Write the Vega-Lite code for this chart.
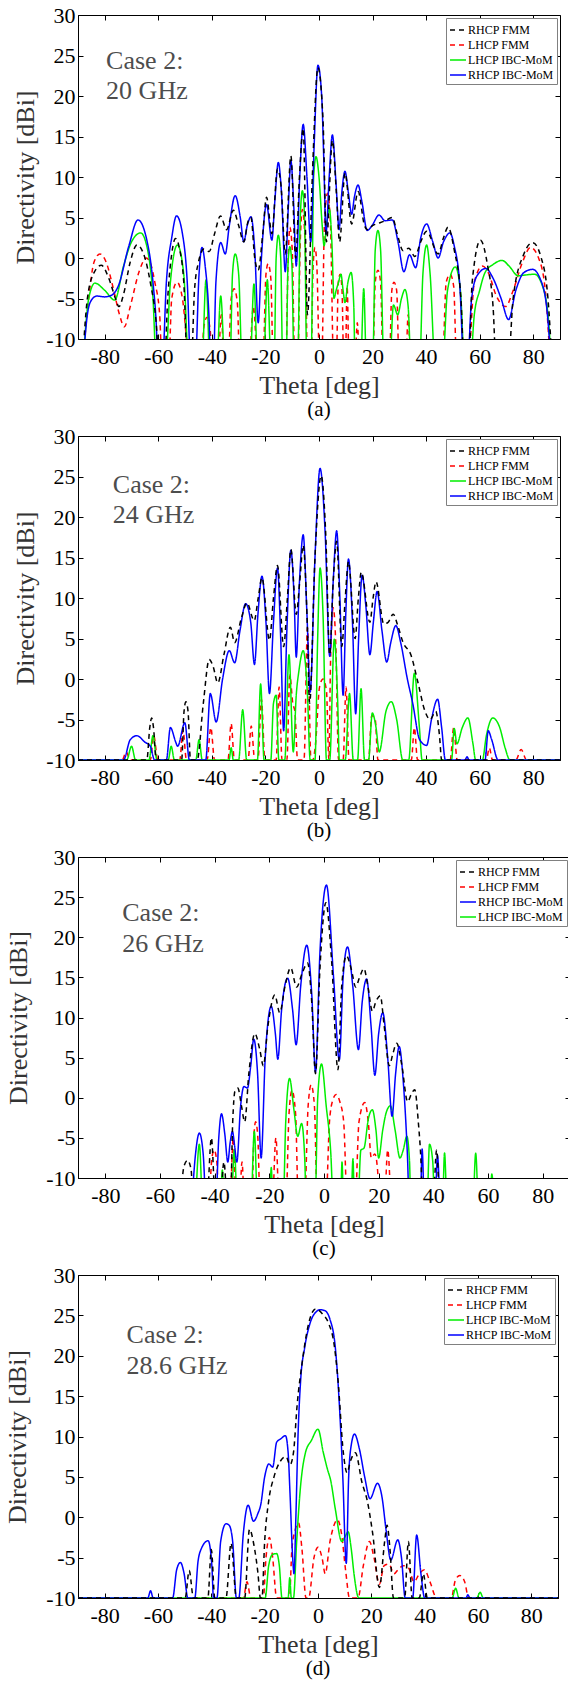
{
"$schema": "https://vega.github.io/schema/vega-lite/v6.json",
"background": "white",
"padding": {"top": 3, "left": 4, "right": 0, "bottom": 0},
"config": {
  "font": "Liberation Serif",
  "view": {"stroke": "black", "strokeWidth": 1},
  "axis": {"domainColor": "black", "tickColor": "black", "labelColor": "black", "labelFont": "Liberation Serif", "labelFontSize": 22, "titleFont": "Liberation Serif", "titleFontSize": 26, "titleFontWeight": "normal", "titleColor": "#333333", "grid": false, "tickSize": -5, "labelFlush": false, "labelOverlap": false, "labelExpr": "'' + datum.value"},
  "axisX": {"labelPadding": 12, "titlePadding": 5},
  "axisY": {"labelPadding": 8, "titlePadding": 7},
  "legend": {"orient": "top-right", "offset": 3, "labelFont": "Liberation Serif", "labelFontSize": 12, "labelColor": "black", "symbolType": "stroke", "symbolStrokeWidth": 1.5, "symbolSize": 256, "strokeColor": "#808080", "fillColor": "white", "padding": 3, "rowPadding": 0, "labelOffset": 1, "cornerRadius": 0},
  "title": {"font": "Liberation Serif", "fontSize": 21, "fontWeight": "normal", "color": "black", "orient": "bottom", "offset": 1, "anchor": "middle"}
},
"datasets": {
"a": [
{"s":"LHCP FMM","x":-88.5,"y":-14},{"s":"LHCP FMM","x":-86,"y":-5},{"s":"LHCP FMM","x":-84,"y":-0.5},{"s":"LHCP FMM","x":-81.8,"y":0.5},{"s":"LHCP FMM","x":-79.5,"y":-0.5},{"s":"LHCP FMM","x":-77,"y":-3.5},{"s":"LHCP FMM","x":-74.5,"y":-7},{"s":"LHCP FMM","x":-72.7,"y":-8.5},{"s":"LHCP FMM","x":-70.5,"y":-6},{"s":"LHCP FMM","x":-67,"y":-1.5},{"s":"LHCP FMM","x":-64.5,"y":0},{"s":"LHCP FMM","x":-62.8,"y":-0.8},{"s":"LHCP FMM","x":-61.3,"y":-3},{"s":"LHCP FMM","x":-59.5,"y":-7},{"s":"LHCP FMM","x":-58.5,"y":-14},{"s":"LHCP FMM","x":-56.2,"y":-14},{"s":"LHCP FMM","x":-55,"y":-5},{"s":"LHCP FMM","x":-53,"y":-3},{"s":"LHCP FMM","x":-51,"y":-5},{"s":"LHCP FMM","x":-49.5,"y":-10},{"s":"LHCP FMM","x":-48.5,"y":-14},
{"s":"LHCP FMM","x":-44,"y":-14},{"s":"LHCP FMM","x":-43,"y":-8.5},{"s":"LHCP FMM","x":-41.8,"y":-7.3},{"s":"LHCP FMM","x":-40.6,"y":-9},{"s":"LHCP FMM","x":-40,"y":-14},
{"s":"LHCP FMM","x":-37.8,"y":-14},{"s":"LHCP FMM","x":-36.5,"y":-7},{"s":"LHCP FMM","x":-35.3,"y":-14},
{"s":"LHCP FMM","x":-34,"y":-14},{"s":"LHCP FMM","x":-32.8,"y":-5},{"s":"LHCP FMM","x":-31.7,"y":-3.8},{"s":"LHCP FMM","x":-30.5,"y":-5.5},{"s":"LHCP FMM","x":-29.5,"y":-14},
{"s":"LHCP FMM","x":-26.3,"y":-14},{"s":"LHCP FMM","x":-24.5,"y":-6},{"s":"LHCP FMM","x":-22.7,"y":-14},
{"s":"LHCP FMM","x":-21,"y":-14},{"s":"LHCP FMM","x":-19.8,"y":-2},{"s":"LHCP FMM","x":-19,"y":-0.7},{"s":"LHCP FMM","x":-18,"y":-2.5},{"s":"LHCP FMM","x":-17,"y":-14},
{"s":"LHCP FMM","x":-12.5,"y":-14},{"s":"LHCP FMM","x":-11.5,"y":0},{"s":"LHCP FMM","x":-10.9,"y":3.8},{"s":"LHCP FMM","x":-10,"y":1},{"s":"LHCP FMM","x":-9,"y":-14},
{"s":"LHCP FMM","x":-8,"y":-14},{"s":"LHCP FMM","x":-7,"y":2},{"s":"LHCP FMM","x":-6.2,"y":6},{"s":"LHCP FMM","x":-5.2,"y":2},{"s":"LHCP FMM","x":-4.2,"y":-14},
{"s":"LHCP FMM","x":-3,"y":-14},{"s":"LHCP FMM","x":-2.2,"y":-1},{"s":"LHCP FMM","x":-1.5,"y":1.3},{"s":"LHCP FMM","x":-0.8,"y":-1},{"s":"LHCP FMM","x":0.3,"y":-14},
{"s":"LHCP FMM","x":1,"y":-14},{"s":"LHCP FMM","x":2,"y":4},{"s":"LHCP FMM","x":3.2,"y":8},{"s":"LHCP FMM","x":4.3,"y":4},{"s":"LHCP FMM","x":5.5,"y":-14},
{"s":"LHCP FMM","x":6.4,"y":-14},{"s":"LHCP FMM","x":7.2,"y":-3},{"s":"LHCP FMM","x":7.9,"y":-2},{"s":"LHCP FMM","x":8.6,"y":-4},{"s":"LHCP FMM","x":9.3,"y":-14},
{"s":"LHCP FMM","x":9.8,"y":-14},{"s":"LHCP FMM","x":10.5,"y":-3.5},{"s":"LHCP FMM","x":11.3,"y":-14},
{"s":"LHCP FMM","x":13.3,"y":-14},{"s":"LHCP FMM","x":14.3,"y":-8},{"s":"LHCP FMM","x":15.3,"y":-14},
{"s":"LHCP FMM","x":20,"y":-14},{"s":"LHCP FMM","x":21,"y":-3},{"s":"LHCP FMM","x":22,"y":-1.5},{"s":"LHCP FMM","x":23,"y":-3},{"s":"LHCP FMM","x":24,"y":-14},
{"s":"LHCP FMM","x":26.2,"y":-14},{"s":"LHCP FMM","x":27.2,"y":-4},{"s":"LHCP FMM","x":28,"y":-3},{"s":"LHCP FMM","x":29,"y":-4},{"s":"LHCP FMM","x":30,"y":-14},
{"s":"LHCP FMM","x":32.3,"y":-14},{"s":"LHCP FMM","x":33.3,"y":-7},{"s":"LHCP FMM","x":34.3,"y":-14},
{"s":"LHCP FMM","x":46,"y":-14},{"s":"LHCP FMM","x":47.5,"y":-3},{"s":"LHCP FMM","x":49,"y":-2},{"s":"LHCP FMM","x":50.3,"y":-3.5},{"s":"LHCP FMM","x":51.5,"y":-14},
{"s":"LHCP FMM","x":55.5,"y":-14},{"s":"LHCP FMM","x":58,"y":-3},{"s":"LHCP FMM","x":61,"y":-1},{"s":"LHCP FMM","x":63.5,"y":-2},{"s":"LHCP FMM","x":66,"y":-4.5},{"s":"LHCP FMM","x":69.7,"y":-6},{"s":"LHCP FMM","x":72.5,"y":-4},{"s":"LHCP FMM","x":76,"y":-0.5},{"s":"LHCP FMM","x":79,"y":1.3},{"s":"LHCP FMM","x":82,"y":0},{"s":"LHCP FMM","x":84.5,"y":-4},{"s":"LHCP FMM","x":86.5,"y":-14},
{"s":"LHCP IBC-MoM","x":-88.3,"y":-14},{"s":"LHCP IBC-MoM","x":-86,"y":-5},{"s":"LHCP IBC-MoM","x":-83.7,"y":-3.1},{"s":"LHCP IBC-MoM","x":-80,"y":-4},{"s":"LHCP IBC-MoM","x":-76.3,"y":-5.2},{"s":"LHCP IBC-MoM","x":-73,"y":-1},{"s":"LHCP IBC-MoM","x":-70,"y":2},{"s":"LHCP IBC-MoM","x":-66.6,"y":3.1},{"s":"LHCP IBC-MoM","x":-64,"y":1},{"s":"LHCP IBC-MoM","x":-62,"y":-5},{"s":"LHCP IBC-MoM","x":-60.6,"y":-14},{"s":"LHCP IBC-MoM","x":-57.5,"y":-14},{"s":"LHCP IBC-MoM","x":-55.5,"y":-3},{"s":"LHCP IBC-MoM","x":-52.9,"y":1.6},{"s":"LHCP IBC-MoM","x":-50.5,"y":-2},{"s":"LHCP IBC-MoM","x":-48.5,"y":-14},
{"s":"LHCP IBC-MoM","x":-43.8,"y":-14},{"s":"LHCP IBC-MoM","x":-42.2,"y":-2.7},{"s":"LHCP IBC-MoM","x":-40.6,"y":-14},
{"s":"LHCP IBC-MoM","x":-38.3,"y":-14},{"s":"LHCP IBC-MoM","x":-36.7,"y":-4.7},{"s":"LHCP IBC-MoM","x":-35,"y":-14},
{"s":"LHCP IBC-MoM","x":-33.3,"y":-14},{"s":"LHCP IBC-MoM","x":-32.3,"y":-2},{"s":"LHCP IBC-MoM","x":-31.3,"y":0.5},{"s":"LHCP IBC-MoM","x":-30,"y":-2},{"s":"LHCP IBC-MoM","x":-28.6,"y":-14},
{"s":"LHCP IBC-MoM","x":-25.8,"y":-14},{"s":"LHCP IBC-MoM","x":-24.3,"y":-3.2},{"s":"LHCP IBC-MoM","x":-22.8,"y":-14},
{"s":"LHCP IBC-MoM","x":-20.8,"y":-14},{"s":"LHCP IBC-MoM","x":-19.3,"y":-2.7},{"s":"LHCP IBC-MoM","x":-17.8,"y":-14},
{"s":"LHCP IBC-MoM","x":-16.8,"y":-14},{"s":"LHCP IBC-MoM","x":-16,"y":0},{"s":"LHCP IBC-MoM","x":-15.2,"y":2.8},{"s":"LHCP IBC-MoM","x":-14.3,"y":0},{"s":"LHCP IBC-MoM","x":-13.5,"y":-14},
{"s":"LHCP IBC-MoM","x":-12.3,"y":-14},{"s":"LHCP IBC-MoM","x":-11.6,"y":-1},{"s":"LHCP IBC-MoM","x":-10.9,"y":1.4},{"s":"LHCP IBC-MoM","x":-10.1,"y":-1},{"s":"LHCP IBC-MoM","x":-9.3,"y":-14},
{"s":"LHCP IBC-MoM","x":-8,"y":-14},{"s":"LHCP IBC-MoM","x":-7,"y":5},{"s":"LHCP IBC-MoM","x":-6.2,"y":8.3},{"s":"LHCP IBC-MoM","x":-5.4,"y":5},{"s":"LHCP IBC-MoM","x":-4.5,"y":-14},
{"s":"LHCP IBC-MoM","x":-3,"y":-14},{"s":"LHCP IBC-MoM","x":-2,"y":10},{"s":"LHCP IBC-MoM","x":-1.1,"y":12.5},{"s":"LHCP IBC-MoM","x":0,"y":10},{"s":"LHCP IBC-MoM","x":1.2,"y":4},{"s":"LHCP IBC-MoM","x":1.9,"y":1.5},{"s":"LHCP IBC-MoM","x":2.8,"y":4},{"s":"LHCP IBC-MoM","x":3.9,"y":6},{"s":"LHCP IBC-MoM","x":4.8,"y":2},{"s":"LHCP IBC-MoM","x":5.6,"y":-5},{"s":"LHCP IBC-MoM","x":6.4,"y":-4},{"s":"LHCP IBC-MoM","x":7.3,"y":-3},{"s":"LHCP IBC-MoM","x":8.2,"y":-2},{"s":"LHCP IBC-MoM","x":9,"y":-4},{"s":"LHCP IBC-MoM","x":9.7,"y":-5.5},{"s":"LHCP IBC-MoM","x":10.8,"y":-3},{"s":"LHCP IBC-MoM","x":12,"y":-1.8},{"s":"LHCP IBC-MoM","x":13,"y":-6},{"s":"LHCP IBC-MoM","x":13.5,"y":-14},
{"s":"LHCP IBC-MoM","x":15.5,"y":-14},{"s":"LHCP IBC-MoM","x":16.7,"y":-3.8},{"s":"LHCP IBC-MoM","x":17.8,"y":-14},
{"s":"LHCP IBC-MoM","x":20,"y":-14},{"s":"LHCP IBC-MoM","x":21,"y":1},{"s":"LHCP IBC-MoM","x":22,"y":3.4},{"s":"LHCP IBC-MoM","x":23,"y":1},{"s":"LHCP IBC-MoM","x":24.3,"y":-14},
{"s":"LHCP IBC-MoM","x":26.3,"y":-14},{"s":"LHCP IBC-MoM","x":27.8,"y":-5.8},{"s":"LHCP IBC-MoM","x":29.4,"y":-7},{"s":"LHCP IBC-MoM","x":30.8,"y":-5},{"s":"LHCP IBC-MoM","x":32.1,"y":-3.9},{"s":"LHCP IBC-MoM","x":33.3,"y":-6},{"s":"LHCP IBC-MoM","x":34.5,"y":-14},
{"s":"LHCP IBC-MoM","x":37.5,"y":-14},{"s":"LHCP IBC-MoM","x":38.8,"y":-2},{"s":"LHCP IBC-MoM","x":40.2,"y":1.6},{"s":"LHCP IBC-MoM","x":41.5,"y":-2},{"s":"LHCP IBC-MoM","x":43.5,"y":-14},
{"s":"LHCP IBC-MoM","x":46,"y":-14},{"s":"LHCP IBC-MoM","x":48,"y":-4},{"s":"LHCP IBC-MoM","x":50.9,"y":-1.1},{"s":"LHCP IBC-MoM","x":52.8,"y":-4},{"s":"LHCP IBC-MoM","x":54.5,"y":-14},
{"s":"LHCP IBC-MoM","x":56.3,"y":-14},{"s":"LHCP IBC-MoM","x":58,"y":-7},{"s":"LHCP IBC-MoM","x":60,"y":-4},{"s":"LHCP IBC-MoM","x":62,"y":-1.8},{"s":"LHCP IBC-MoM","x":65,"y":-0.8},{"s":"LHCP IBC-MoM","x":68.4,"y":-0.3},{"s":"LHCP IBC-MoM","x":71,"y":-1},{"s":"LHCP IBC-MoM","x":74.4,"y":-2.2},{"s":"LHCP IBC-MoM","x":77,"y":-2.1},{"s":"LHCP IBC-MoM","x":80.5,"y":-2},{"s":"LHCP IBC-MoM","x":83.5,"y":-3.5},{"s":"LHCP IBC-MoM","x":85.8,"y":-8},{"s":"LHCP IBC-MoM","x":86.8,"y":-14},
{"s":"RHCP IBC-MoM","x":-88.3,"y":-14},{"s":"RHCP IBC-MoM","x":-86.5,"y":-7},{"s":"RHCP IBC-MoM","x":-85,"y":-5.2},{"s":"RHCP IBC-MoM","x":-83,"y":-4.7},{"s":"RHCP IBC-MoM","x":-80,"y":-4.8},{"s":"RHCP IBC-MoM","x":-77.5,"y":-4.6},{"s":"RHCP IBC-MoM","x":-75,"y":-3.5},{"s":"RHCP IBC-MoM","x":-71,"y":1.5},{"s":"RHCP IBC-MoM","x":-67.6,"y":4.7},{"s":"RHCP IBC-MoM","x":-64.5,"y":2.5},{"s":"RHCP IBC-MoM","x":-62,"y":-3},{"s":"RHCP IBC-MoM","x":-60.8,"y":-8},{"s":"RHCP IBC-MoM","x":-60,"y":-14},{"s":"RHCP IBC-MoM","x":-58.6,"y":-14},{"s":"RHCP IBC-MoM","x":-57,"y":-3},{"s":"RHCP IBC-MoM","x":-55,"y":2.5},{"s":"RHCP IBC-MoM","x":-53.2,"y":5.2},{"s":"RHCP IBC-MoM","x":-51,"y":3},{"s":"RHCP IBC-MoM","x":-49.2,"y":-3},{"s":"RHCP IBC-MoM","x":-47.8,"y":-14},
{"s":"RHCP IBC-MoM","x":-46.3,"y":-14},{"s":"RHCP IBC-MoM","x":-44.8,"y":-2},{"s":"RHCP IBC-MoM","x":-43.7,"y":1.3},{"s":"RHCP IBC-MoM","x":-42.5,"y":-1},{"s":"RHCP IBC-MoM","x":-41,"y":-8},{"s":"RHCP IBC-MoM","x":-40.4,"y":-14},
{"s":"RHCP IBC-MoM","x":-39.5,"y":-14},{"s":"RHCP IBC-MoM","x":-38.5,"y":-3},{"s":"RHCP IBC-MoM","x":-36.7,"y":1.9},{"s":"RHCP IBC-MoM","x":-35,"y":0.5},{"s":"RHCP IBC-MoM","x":-33.5,"y":4},{"s":"RHCP IBC-MoM","x":-31.3,"y":7.7},{"s":"RHCP IBC-MoM","x":-29.4,"y":5},{"s":"RHCP IBC-MoM","x":-28.1,"y":2},{"s":"RHCP IBC-MoM","x":-26.8,"y":4},{"s":"RHCP IBC-MoM","x":-25.4,"y":5.1},{"s":"RHCP IBC-MoM","x":-24,"y":1},{"s":"RHCP IBC-MoM","x":-22.7,"y":-8},{"s":"RHCP IBC-MoM","x":-21.5,"y":0},{"s":"RHCP IBC-MoM","x":-19.6,"y":6.6},{"s":"RHCP IBC-MoM","x":-17.6,"y":2.2},{"s":"RHCP IBC-MoM","x":-16.5,"y":7},{"s":"RHCP IBC-MoM","x":-15.2,"y":11.8},{"s":"RHCP IBC-MoM","x":-14,"y":8},{"s":"RHCP IBC-MoM","x":-12.6,"y":-1.7},{"s":"RHCP IBC-MoM","x":-11.5,"y":6},{"s":"RHCP IBC-MoM","x":-10.5,"y":12},{"s":"RHCP IBC-MoM","x":-9.5,"y":7},{"s":"RHCP IBC-MoM","x":-8.5,"y":-1},{"s":"RHCP IBC-MoM","x":-7.2,"y":10},{"s":"RHCP IBC-MoM","x":-5.9,"y":16.5},{"s":"RHCP IBC-MoM","x":-4.5,"y":10},{"s":"RHCP IBC-MoM","x":-3.1,"y":2},{"s":"RHCP IBC-MoM","x":-1.8,"y":14},{"s":"RHCP IBC-MoM","x":-0.4,"y":23.8},{"s":"RHCP IBC-MoM","x":1,"y":20},{"s":"RHCP IBC-MoM","x":1.8,"y":12},{"s":"RHCP IBC-MoM","x":2.6,"y":3},{"s":"RHCP IBC-MoM","x":3.8,"y":10},{"s":"RHCP IBC-MoM","x":5,"y":15.2},{"s":"RHCP IBC-MoM","x":6.4,"y":9},{"s":"RHCP IBC-MoM","x":7.5,"y":3.5},{"s":"RHCP IBC-MoM","x":8.5,"y":8},{"s":"RHCP IBC-MoM","x":9.7,"y":10.7},{"s":"RHCP IBC-MoM","x":11,"y":8},{"s":"RHCP IBC-MoM","x":12.2,"y":5.4},{"s":"RHCP IBC-MoM","x":13.2,"y":7.5},{"s":"RHCP IBC-MoM","x":14.6,"y":9},{"s":"RHCP IBC-MoM","x":16,"y":7},{"s":"RHCP IBC-MoM","x":18,"y":3.4},{"s":"RHCP IBC-MoM","x":19.8,"y":4},{"s":"RHCP IBC-MoM","x":22.4,"y":5.3},{"s":"RHCP IBC-MoM","x":24.7,"y":4.6},{"s":"RHCP IBC-MoM","x":27.4,"y":4.7},{"s":"RHCP IBC-MoM","x":29.5,"y":2},{"s":"RHCP IBC-MoM","x":31.7,"y":-1.7},{"s":"RHCP IBC-MoM","x":33.8,"y":0.4},{"s":"RHCP IBC-MoM","x":36.1,"y":-1.2},{"s":"RHCP IBC-MoM","x":38,"y":2.5},{"s":"RHCP IBC-MoM","x":40.2,"y":4.2},{"s":"RHCP IBC-MoM","x":42.5,"y":2},{"s":"RHCP IBC-MoM","x":44.5,"y":0},{"s":"RHCP IBC-MoM","x":46.5,"y":2},{"s":"RHCP IBC-MoM","x":48.9,"y":3.1},{"s":"RHCP IBC-MoM","x":50.5,"y":1.5},{"s":"RHCP IBC-MoM","x":52.5,"y":-3},{"s":"RHCP IBC-MoM","x":54.3,"y":-14},{"s":"RHCP IBC-MoM","x":55.3,"y":-14},{"s":"RHCP IBC-MoM","x":57,"y":-5},{"s":"RHCP IBC-MoM","x":59,"y":-2.2},{"s":"RHCP IBC-MoM","x":62.3,"y":-1.3},{"s":"RHCP IBC-MoM","x":65,"y":-2.5},{"s":"RHCP IBC-MoM","x":68,"y":-5},{"s":"RHCP IBC-MoM","x":70.8,"y":-7.6},{"s":"RHCP IBC-MoM","x":73.5,"y":-4},{"s":"RHCP IBC-MoM","x":76.5,"y":-1.8},{"s":"RHCP IBC-MoM","x":79.8,"y":-1.4},{"s":"RHCP IBC-MoM","x":82.5,"y":-2.5},{"s":"RHCP IBC-MoM","x":85,"y":-6},{"s":"RHCP IBC-MoM","x":86.8,"y":-14},
{"s":"RHCP FMM","x":-88.5,"y":-14},{"s":"RHCP FMM","x":-86.5,"y":-5},{"s":"RHCP FMM","x":-84,"y":-1.8},{"s":"RHCP FMM","x":-81.3,"y":-0.9},{"s":"RHCP FMM","x":-78.5,"y":-2.5},{"s":"RHCP FMM","x":-76,"y":-5},{"s":"RHCP FMM","x":-74.7,"y":-6},{"s":"RHCP FMM","x":-73,"y":-4.5},{"s":"RHCP FMM","x":-70.5,"y":-0.5},{"s":"RHCP FMM","x":-68,"y":1.6},{"s":"RHCP FMM","x":-65.5,"y":0.5},{"s":"RHCP FMM","x":-63,"y":-3},{"s":"RHCP FMM","x":-60.8,"y":-8},{"s":"RHCP FMM","x":-59.5,"y":-14},{"s":"RHCP FMM","x":-57.8,"y":-14},{"s":"RHCP FMM","x":-56.5,"y":-5},{"s":"RHCP FMM","x":-55,"y":0.5},{"s":"RHCP FMM","x":-53.6,"y":2.4},{"s":"RHCP FMM","x":-52,"y":1},{"s":"RHCP FMM","x":-50.5,"y":-3},{"s":"RHCP FMM","x":-49,"y":-14},{"s":"RHCP FMM","x":-47.8,"y":-14},{"s":"RHCP FMM","x":-46.5,"y":-4},{"s":"RHCP FMM","x":-45,"y":-0.5},{"s":"RHCP FMM","x":-43,"y":1.1},{"s":"RHCP FMM","x":-41,"y":0.8},{"s":"RHCP FMM","x":-39,"y":3},{"s":"RHCP FMM","x":-36.8,"y":5.2},{"s":"RHCP FMM","x":-34.5,"y":3.5},{"s":"RHCP FMM","x":-32,"y":5.9},{"s":"RHCP FMM","x":-30,"y":4},{"s":"RHCP FMM","x":-28.1,"y":2},{"s":"RHCP FMM","x":-26.5,"y":4.5},{"s":"RHCP FMM","x":-25.4,"y":5},{"s":"RHCP FMM","x":-24,"y":0},{"s":"RHCP FMM","x":-22.7,"y":-1.5},{"s":"RHCP FMM","x":-21,"y":3},{"s":"RHCP FMM","x":-19.6,"y":7.5},{"s":"RHCP FMM","x":-17.6,"y":3},{"s":"RHCP FMM","x":-15.5,"y":11},{"s":"RHCP FMM","x":-14.2,"y":9},{"s":"RHCP FMM","x":-12.6,"y":0.5},{"s":"RHCP FMM","x":-10.5,"y":12.6},{"s":"RHCP FMM","x":-8.7,"y":0},{"s":"RHCP FMM","x":-7.3,"y":10},{"s":"RHCP FMM","x":-5.9,"y":16},{"s":"RHCP FMM","x":-4.3,"y":-7},{"s":"RHCP FMM","x":-2.5,"y":10},{"s":"RHCP FMM","x":-0.4,"y":23.5},{"s":"RHCP FMM","x":1.5,"y":17},{"s":"RHCP FMM","x":2.8,"y":2},{"s":"RHCP FMM","x":5,"y":14.5},{"s":"RHCP FMM","x":6.5,"y":8},{"s":"RHCP FMM","x":7.7,"y":2},{"s":"RHCP FMM","x":9.7,"y":10.5},{"s":"RHCP FMM","x":12.2,"y":4.2},{"s":"RHCP FMM","x":14.6,"y":8.2},{"s":"RHCP FMM","x":17,"y":4},{"s":"RHCP FMM","x":18.2,"y":3.5},{"s":"RHCP FMM","x":20,"y":4},{"s":"RHCP FMM","x":22.4,"y":4.3},{"s":"RHCP FMM","x":24.7,"y":4.6},{"s":"RHCP FMM","x":27.4,"y":5},{"s":"RHCP FMM","x":29.2,"y":3},{"s":"RHCP FMM","x":31.4,"y":0.9},{"s":"RHCP FMM","x":33.5,"y":1.2},{"s":"RHCP FMM","x":35.8,"y":0.2},{"s":"RHCP FMM","x":38,"y":2},{"s":"RHCP FMM","x":40.2,"y":3.3},{"s":"RHCP FMM","x":44.5,"y":0.5},{"s":"RHCP FMM","x":46.5,"y":2.5},{"s":"RHCP FMM","x":48.2,"y":3.8},{"s":"RHCP FMM","x":50.5,"y":1},{"s":"RHCP FMM","x":53,"y":-5},{"s":"RHCP FMM","x":54.3,"y":-14},{"s":"RHCP FMM","x":55.8,"y":-14},{"s":"RHCP FMM","x":57.2,"y":-3},{"s":"RHCP FMM","x":60.3,"y":2.2},{"s":"RHCP FMM","x":63,"y":-1},{"s":"RHCP FMM","x":65,"y":-6},{"s":"RHCP FMM","x":66.3,"y":-14},{"s":"RHCP FMM","x":70.5,"y":-14},{"s":"RHCP FMM","x":72.5,"y":-5},{"s":"RHCP FMM","x":76.5,"y":0.5},{"s":"RHCP FMM","x":79.8,"y":1.9},{"s":"RHCP FMM","x":83,"y":0},{"s":"RHCP FMM","x":85.5,"y":-5},{"s":"RHCP FMM","x":87.2,"y":-14}
],
"b": [
{"s":"LHCP FMM","x":-90,"y":-10},{"s":"LHCP FMM","x":-73.5,"y":-10},{"s":"LHCP FMM","x":-72,"y":-9},{"s":"LHCP FMM","x":-70.5,"y":-10},{"s":"LHCP FMM","x":-63,"y":-10},{"s":"LHCP FMM","x":-61.7,"y":-7},{"s":"LHCP FMM","x":-60.2,"y":-10},{"s":"LHCP FMM","x":-52,"y":-10},{"s":"LHCP FMM","x":-50.8,"y":-6.3},{"s":"LHCP FMM","x":-49.5,"y":-10},{"s":"LHCP FMM","x":-41.8,"y":-10},{"s":"LHCP FMM","x":-40.4,"y":-6},{"s":"LHCP FMM","x":-39,"y":-10},{"s":"LHCP FMM","x":-34,"y":-10},{"s":"LHCP FMM","x":-32.8,"y":-5.5},{"s":"LHCP FMM","x":-31.6,"y":-10},{"s":"LHCP FMM","x":-26.5,"y":-10},{"s":"LHCP FMM","x":-25.3,"y":-5.8},{"s":"LHCP FMM","x":-24,"y":-10},{"s":"LHCP FMM","x":-22.8,"y":-10},{"s":"LHCP FMM","x":-21.5,"y":-2.5},{"s":"LHCP FMM","x":-20.2,"y":-10},{"s":"LHCP FMM","x":-16,"y":-10},{"s":"LHCP FMM","x":-14.9,"y":-1},{"s":"LHCP FMM","x":-13.8,"y":-10},{"s":"LHCP FMM","x":-12,"y":-10},{"s":"LHCP FMM","x":-10.9,"y":0.5},{"s":"LHCP FMM","x":-9.8,"y":-3},{"s":"LHCP FMM","x":-9,"y":-4},{"s":"LHCP FMM","x":-8,"y":-10},{"s":"LHCP FMM","x":-5.6,"y":-10},{"s":"LHCP FMM","x":-4.3,"y":6.3},{"s":"LHCP FMM","x":-3,"y":-10},{"s":"LHCP FMM","x":-2.3,"y":-10},{"s":"LHCP FMM","x":-1.3,"y":-8},{"s":"LHCP FMM","x":0.2,"y":-1},{"s":"LHCP FMM","x":1.5,"y":0},{"s":"LHCP FMM","x":2.8,"y":-1.5},{"s":"LHCP FMM","x":3.7,"y":-10},{"s":"LHCP FMM","x":4.3,"y":2},{"s":"LHCP FMM","x":5.3,"y":8.8},{"s":"LHCP FMM","x":6.3,"y":4},{"s":"LHCP FMM","x":7.3,"y":-10},{"s":"LHCP FMM","x":9,"y":-10},{"s":"LHCP FMM","x":10.1,"y":-1},{"s":"LHCP FMM","x":11.2,"y":-10},{"s":"LHCP FMM","x":18.5,"y":-10},{"s":"LHCP FMM","x":19.7,"y":-4.5},{"s":"LHCP FMM","x":21,"y":-5},{"s":"LHCP FMM","x":22,"y":-10},{"s":"LHCP FMM","x":34.5,"y":-10},{"s":"LHCP FMM","x":35.6,"y":-6},{"s":"LHCP FMM","x":36.8,"y":-10},{"s":"LHCP FMM","x":49,"y":-10},{"s":"LHCP FMM","x":50.3,"y":-6},{"s":"LHCP FMM","x":51.6,"y":-10},{"s":"LHCP FMM","x":62.5,"y":-10},{"s":"LHCP FMM","x":63.6,"y":-8.5},{"s":"LHCP FMM","x":64.8,"y":-10},{"s":"LHCP FMM","x":73.5,"y":-10},{"s":"LHCP FMM","x":75.5,"y":-8.7},{"s":"LHCP FMM","x":77.5,"y":-10},{"s":"LHCP FMM","x":90,"y":-10},
{"s":"LHCP IBC-MoM","x":-90,"y":-10},{"s":"LHCP IBC-MoM","x":-71.8,"y":-10},{"s":"LHCP IBC-MoM","x":-70,"y":-8.3},{"s":"LHCP IBC-MoM","x":-68.5,"y":-10},{"s":"LHCP IBC-MoM","x":-63.5,"y":-10},{"s":"LHCP IBC-MoM","x":-62,"y":-7},{"s":"LHCP IBC-MoM","x":-60.5,"y":-10},{"s":"LHCP IBC-MoM","x":-56.3,"y":-10},{"s":"LHCP IBC-MoM","x":-55.2,"y":-8.3},{"s":"LHCP IBC-MoM","x":-54,"y":-10},{"s":"LHCP IBC-MoM","x":-46,"y":-10},{"s":"LHCP IBC-MoM","x":-44.8,"y":-7.5},{"s":"LHCP IBC-MoM","x":-43.6,"y":-10},{"s":"LHCP IBC-MoM","x":-33.6,"y":-10},{"s":"LHCP IBC-MoM","x":-32.8,"y":-8.5},{"s":"LHCP IBC-MoM","x":-32,"y":-10},{"s":"LHCP IBC-MoM","x":-30,"y":-10},{"s":"LHCP IBC-MoM","x":-28.5,"y":-3.8},{"s":"LHCP IBC-MoM","x":-27,"y":-10},{"s":"LHCP IBC-MoM","x":-23,"y":-10},{"s":"LHCP IBC-MoM","x":-21.8,"y":-0.6},{"s":"LHCP IBC-MoM","x":-20.5,"y":-10},{"s":"LHCP IBC-MoM","x":-18,"y":-10},{"s":"LHCP IBC-MoM","x":-17,"y":-3},{"s":"LHCP IBC-MoM","x":-16,"y":-2},{"s":"LHCP IBC-MoM","x":-15,"y":-10},{"s":"LHCP IBC-MoM","x":-12.8,"y":-10},{"s":"LHCP IBC-MoM","x":-11.2,"y":3},{"s":"LHCP IBC-MoM","x":-9.6,"y":-9},{"s":"LHCP IBC-MoM","x":-8.5,"y":-2},{"s":"LHCP IBC-MoM","x":-7.5,"y":1},{"s":"LHCP IBC-MoM","x":-5.9,"y":3.5},{"s":"LHCP IBC-MoM","x":-4.3,"y":-2},{"s":"LHCP IBC-MoM","x":-3.3,"y":-10},{"s":"LHCP IBC-MoM","x":-1.5,"y":-10},{"s":"LHCP IBC-MoM","x":-0.5,"y":5},{"s":"LHCP IBC-MoM","x":0.4,"y":13.7},{"s":"LHCP IBC-MoM","x":1.5,"y":8},{"s":"LHCP IBC-MoM","x":2.8,"y":-10},{"s":"LHCP IBC-MoM","x":4,"y":-10},{"s":"LHCP IBC-MoM","x":5.7,"y":4.9},{"s":"LHCP IBC-MoM","x":7,"y":-3},{"s":"LHCP IBC-MoM","x":7.6,"y":-10},{"s":"LHCP IBC-MoM","x":9.8,"y":-10},{"s":"LHCP IBC-MoM","x":11.4,"y":-1.8},{"s":"LHCP IBC-MoM","x":12.8,"y":-10},{"s":"LHCP IBC-MoM","x":14.4,"y":-10},{"s":"LHCP IBC-MoM","x":15.7,"y":-1.2},{"s":"LHCP IBC-MoM","x":17,"y":-10},{"s":"LHCP IBC-MoM","x":18.5,"y":-10},{"s":"LHCP IBC-MoM","x":19.9,"y":-4.2},{"s":"LHCP IBC-MoM","x":21.3,"y":-6},{"s":"LHCP IBC-MoM","x":22.5,"y":-9},{"s":"LHCP IBC-MoM","x":25,"y":-4},{"s":"LHCP IBC-MoM","x":27,"y":-2.8},{"s":"LHCP IBC-MoM","x":29,"y":-5},{"s":"LHCP IBC-MoM","x":31.3,"y":-10},{"s":"LHCP IBC-MoM","x":33.5,"y":-10},{"s":"LHCP IBC-MoM","x":35.6,"y":0.7},{"s":"LHCP IBC-MoM","x":37.5,"y":-6},{"s":"LHCP IBC-MoM","x":38.5,"y":-10},{"s":"LHCP IBC-MoM","x":49.5,"y":-10},{"s":"LHCP IBC-MoM","x":50.5,"y":-6.1},{"s":"LHCP IBC-MoM","x":51.5,"y":-8},{"s":"LHCP IBC-MoM","x":53.5,"y":-6},{"s":"LHCP IBC-MoM","x":55.6,"y":-4.8},{"s":"LHCP IBC-MoM","x":57.5,"y":-8},{"s":"LHCP IBC-MoM","x":58.5,"y":-10},{"s":"LHCP IBC-MoM","x":61,"y":-10},{"s":"LHCP IBC-MoM","x":62.5,"y":-7},{"s":"LHCP IBC-MoM","x":64.9,"y":-4.8},{"s":"LHCP IBC-MoM","x":67.5,"y":-6},{"s":"LHCP IBC-MoM","x":69.5,"y":-8.5},{"s":"LHCP IBC-MoM","x":71.3,"y":-10},{"s":"LHCP IBC-MoM","x":90,"y":-10},
{"s":"RHCP IBC-MoM","x":-90,"y":-10},{"s":"RHCP IBC-MoM","x":-73,"y":-10},{"s":"RHCP IBC-MoM","x":-70.5,"y":-7.5},{"s":"RHCP IBC-MoM","x":-68,"y":-7},{"s":"RHCP IBC-MoM","x":-65,"y":-7.8},{"s":"RHCP IBC-MoM","x":-63,"y":-8.3},{"s":"RHCP IBC-MoM","x":-61.4,"y":-10},{"s":"RHCP IBC-MoM","x":-57,"y":-10},{"s":"RHCP IBC-MoM","x":-55.5,"y":-6},{"s":"RHCP IBC-MoM","x":-53.5,"y":-7.8},{"s":"RHCP IBC-MoM","x":-52.8,"y":-8.3},{"s":"RHCP IBC-MoM","x":-50.1,"y":-5.4},{"s":"RHCP IBC-MoM","x":-48.4,"y":-10},{"s":"RHCP IBC-MoM","x":-42.3,"y":-10},{"s":"RHCP IBC-MoM","x":-40.6,"y":-1.8},{"s":"RHCP IBC-MoM","x":-38.4,"y":-5.3},{"s":"RHCP IBC-MoM","x":-36,"y":0},{"s":"RHCP IBC-MoM","x":-33.5,"y":3.5},{"s":"RHCP IBC-MoM","x":-31.5,"y":2},{"s":"RHCP IBC-MoM","x":-29.5,"y":6},{"s":"RHCP IBC-MoM","x":-27.4,"y":9.3},{"s":"RHCP IBC-MoM","x":-25.5,"y":7},{"s":"RHCP IBC-MoM","x":-24.1,"y":1.8},{"s":"RHCP IBC-MoM","x":-22.8,"y":8},{"s":"RHCP IBC-MoM","x":-21.3,"y":12.7},{"s":"RHCP IBC-MoM","x":-19.8,"y":7},{"s":"RHCP IBC-MoM","x":-18.5,"y":-1.8},{"s":"RHCP IBC-MoM","x":-17,"y":7},{"s":"RHCP IBC-MoM","x":-15.5,"y":13.7},{"s":"RHCP IBC-MoM","x":-14.3,"y":5},{"s":"RHCP IBC-MoM","x":-13.2,"y":-6.4},{"s":"RHCP IBC-MoM","x":-12,"y":6},{"s":"RHCP IBC-MoM","x":-10.5,"y":15.9},{"s":"RHCP IBC-MoM","x":-9.3,"y":10},{"s":"RHCP IBC-MoM","x":-8.5,"y":2.7},{"s":"RHCP IBC-MoM","x":-7.3,"y":12},{"s":"RHCP IBC-MoM","x":-5.9,"y":17.8},{"s":"RHCP IBC-MoM","x":-4.5,"y":8},{"s":"RHCP IBC-MoM","x":-3.3,"y":-1.6},{"s":"RHCP IBC-MoM","x":-1.5,"y":15},{"s":"RHCP IBC-MoM","x":0.4,"y":26},{"s":"RHCP IBC-MoM","x":2.3,"y":18},{"s":"RHCP IBC-MoM","x":4,"y":2.8},{"s":"RHCP IBC-MoM","x":5.3,"y":12},{"s":"RHCP IBC-MoM","x":6.6,"y":18.3},{"s":"RHCP IBC-MoM","x":7.8,"y":10},{"s":"RHCP IBC-MoM","x":9,"y":-2},{"s":"RHCP IBC-MoM","x":10,"y":8},{"s":"RHCP IBC-MoM","x":11,"y":14.8},{"s":"RHCP IBC-MoM","x":12.5,"y":7},{"s":"RHCP IBC-MoM","x":13.7,"y":-4.3},{"s":"RHCP IBC-MoM","x":14.8,"y":5},{"s":"RHCP IBC-MoM","x":16.1,"y":12.8},{"s":"RHCP IBC-MoM","x":17.5,"y":9},{"s":"RHCP IBC-MoM","x":19,"y":3},{"s":"RHCP IBC-MoM","x":20.3,"y":7},{"s":"RHCP IBC-MoM","x":21.7,"y":10.8},{"s":"RHCP IBC-MoM","x":23.5,"y":6},{"s":"RHCP IBC-MoM","x":25.3,"y":2.1},{"s":"RHCP IBC-MoM","x":26.8,"y":4.5},{"s":"RHCP IBC-MoM","x":28.7,"y":6.6},{"s":"RHCP IBC-MoM","x":30.5,"y":4.5},{"s":"RHCP IBC-MoM","x":33,"y":0},{"s":"RHCP IBC-MoM","x":35,"y":-3},{"s":"RHCP IBC-MoM","x":37.6,"y":-7.5},{"s":"RHCP IBC-MoM","x":40.2,"y":-8.2},{"s":"RHCP IBC-MoM","x":42,"y":-5},{"s":"RHCP IBC-MoM","x":44.3,"y":-2.5},{"s":"RHCP IBC-MoM","x":45.8,"y":-6},{"s":"RHCP IBC-MoM","x":47.2,"y":-10},{"s":"RHCP IBC-MoM","x":54.5,"y":-10},{"s":"RHCP IBC-MoM","x":55.3,"y":-9.6},{"s":"RHCP IBC-MoM","x":56,"y":-10},{"s":"RHCP IBC-MoM","x":62,"y":-10},{"s":"RHCP IBC-MoM","x":63.2,"y":-6.4},{"s":"RHCP IBC-MoM","x":64.5,"y":-7.5},{"s":"RHCP IBC-MoM","x":66.9,"y":-10},{"s":"RHCP IBC-MoM","x":90,"y":-10},
{"s":"RHCP FMM","x":-90,"y":-10},{"s":"RHCP FMM","x":-64.3,"y":-10},{"s":"RHCP FMM","x":-63.2,"y":-6},{"s":"RHCP FMM","x":-62.5,"y":-4.8},{"s":"RHCP FMM","x":-61.8,"y":-6},{"s":"RHCP FMM","x":-60.8,"y":-10},{"s":"RHCP FMM","x":-51.3,"y":-10},{"s":"RHCP FMM","x":-50.4,"y":-4},{"s":"RHCP FMM","x":-49.7,"y":-2.8},{"s":"RHCP FMM","x":-48.9,"y":-4},{"s":"RHCP FMM","x":-48,"y":-10},{"s":"RHCP FMM","x":-45.5,"y":-10},{"s":"RHCP FMM","x":-43.2,"y":-3},{"s":"RHCP FMM","x":-41,"y":2.4},{"s":"RHCP FMM","x":-39.5,"y":1.5},{"s":"RHCP FMM","x":-37.8,"y":-0.5},{"s":"RHCP FMM","x":-35.5,"y":3},{"s":"RHCP FMM","x":-33.1,"y":6.4},{"s":"RHCP FMM","x":-31.5,"y":4.5},{"s":"RHCP FMM","x":-29,"y":7.5},{"s":"RHCP FMM","x":-26.9,"y":9.4},{"s":"RHCP FMM","x":-24.2,"y":7.2},{"s":"RHCP FMM","x":-22.7,"y":10},{"s":"RHCP FMM","x":-21.3,"y":12.5},{"s":"RHCP FMM","x":-18.5,"y":4.8},{"s":"RHCP FMM","x":-17,"y":10},{"s":"RHCP FMM","x":-15.5,"y":14},{"s":"RHCP FMM","x":-13.2,"y":4},{"s":"RHCP FMM","x":-11.8,"y":10},{"s":"RHCP FMM","x":-10.5,"y":16},{"s":"RHCP FMM","x":-8.5,"y":8},{"s":"RHCP FMM","x":-7.2,"y":12},{"s":"RHCP FMM","x":-5.9,"y":16.5},{"s":"RHCP FMM","x":-4.5,"y":8},{"s":"RHCP FMM","x":-3.5,"y":-3},{"s":"RHCP FMM","x":-1.5,"y":15},{"s":"RHCP FMM","x":0.8,"y":25.1},{"s":"RHCP FMM","x":2.5,"y":18},{"s":"RHCP FMM","x":4,"y":3},{"s":"RHCP FMM","x":5.3,"y":12},{"s":"RHCP FMM","x":6.6,"y":17},{"s":"RHCP FMM","x":8.5,"y":4},{"s":"RHCP FMM","x":9.8,"y":10},{"s":"RHCP FMM","x":11,"y":14.5},{"s":"RHCP FMM","x":13.5,"y":5},{"s":"RHCP FMM","x":14.7,"y":10},{"s":"RHCP FMM","x":15.8,"y":13.2},{"s":"RHCP FMM","x":19,"y":7},{"s":"RHCP FMM","x":20.2,"y":10},{"s":"RHCP FMM","x":21.3,"y":12},{"s":"RHCP FMM","x":24.2,"y":6.8},{"s":"RHCP FMM","x":25.8,"y":7},{"s":"RHCP FMM","x":27.7,"y":8},{"s":"RHCP FMM","x":29.5,"y":6.5},{"s":"RHCP FMM","x":31.4,"y":4.5},{"s":"RHCP FMM","x":34.3,"y":3},{"s":"RHCP FMM","x":37,"y":-0.5},{"s":"RHCP FMM","x":39.6,"y":-4},{"s":"RHCP FMM","x":41.5,"y":-5},{"s":"RHCP FMM","x":43.6,"y":-4},{"s":"RHCP FMM","x":45,"y":-7},{"s":"RHCP FMM","x":45.8,"y":-10},{"s":"RHCP FMM","x":90,"y":-10}
],
"c": [
{"s":"LHCP FMM","x":-42,"y":-14},{"s":"LHCP FMM","x":-41,"y":-7.5},{"s":"LHCP FMM","x":-40.2,"y":-6.5},{"s":"LHCP FMM","x":-39.2,"y":-8},{"s":"LHCP FMM","x":-38.5,"y":-14},
{"s":"LHCP FMM","x":-34.5,"y":-14},{"s":"LHCP FMM","x":-33.2,"y":-5},{"s":"LHCP FMM","x":-32,"y":-14},
{"s":"LHCP FMM","x":-31,"y":-14},{"s":"LHCP FMM","x":-30,"y":-8},{"s":"LHCP FMM","x":-29,"y":-14},
{"s":"LHCP FMM","x":-26.5,"y":-14},{"s":"LHCP FMM","x":-25.6,"y":-4.5},{"s":"LHCP FMM","x":-25,"y":-3},{"s":"LHCP FMM","x":-24.2,"y":-5},{"s":"LHCP FMM","x":-23.3,"y":-14},
{"s":"LHCP FMM","x":-19,"y":-14},{"s":"LHCP FMM","x":-17.6,"y":-5},{"s":"LHCP FMM","x":-16.3,"y":-14},
{"s":"LHCP FMM","x":-14,"y":-14},{"s":"LHCP FMM","x":-12.8,"y":-2},{"s":"LHCP FMM","x":-11.7,"y":0.9},{"s":"LHCP FMM","x":-10.4,"y":-2},{"s":"LHCP FMM","x":-9.3,"y":-14},
{"s":"LHCP FMM","x":-7.2,"y":-14},{"s":"LHCP FMM","x":-5.8,"y":-1},{"s":"LHCP FMM","x":-4.7,"y":1.6},{"s":"LHCP FMM","x":-3.5,"y":-1},{"s":"LHCP FMM","x":-2.4,"y":-14},
{"s":"LHCP FMM","x":0.6,"y":-14},{"s":"LHCP FMM","x":2,"y":-3},{"s":"LHCP FMM","x":3.2,"y":-0.3},{"s":"LHCP FMM","x":4.4,"y":0.4},{"s":"LHCP FMM","x":5.8,"y":-0.5},{"s":"LHCP FMM","x":7.2,"y":-3},{"s":"LHCP FMM","x":8.6,"y":-14},
{"s":"LHCP FMM","x":11.3,"y":-14},{"s":"LHCP FMM","x":12.8,"y":-3},{"s":"LHCP FMM","x":14.9,"y":-0.6},{"s":"LHCP FMM","x":16.2,"y":-3},{"s":"LHCP FMM","x":17.3,"y":-7.5},{"s":"LHCP FMM","x":18.6,"y":-7},{"s":"LHCP FMM","x":19.6,"y":-9},{"s":"LHCP FMM","x":20.4,"y":-14},
{"s":"LHCP FMM","x":22,"y":-14},{"s":"LHCP FMM","x":23.3,"y":-6.5},{"s":"LHCP FMM","x":24.5,"y":-14},
{"s":"LHCP IBC-MoM","x":-47,"y":-14},{"s":"LHCP IBC-MoM","x":-45.6,"y":-5.8},{"s":"LHCP IBC-MoM","x":-44.3,"y":-14},
{"s":"LHCP IBC-MoM","x":-38,"y":-14},{"s":"LHCP IBC-MoM","x":-37.2,"y":-9},{"s":"LHCP IBC-MoM","x":-36.4,"y":-14},
{"s":"LHCP IBC-MoM","x":-34,"y":-14},{"s":"LHCP IBC-MoM","x":-32.8,"y":-6.5},{"s":"LHCP IBC-MoM","x":-31.6,"y":-14},
{"s":"LHCP IBC-MoM","x":-26.8,"y":-14},{"s":"LHCP IBC-MoM","x":-25.5,"y":-4.2},{"s":"LHCP IBC-MoM","x":-24.2,"y":-14},
{"s":"LHCP IBC-MoM","x":-20,"y":-14},{"s":"LHCP IBC-MoM","x":-19.3,"y":-8.7},{"s":"LHCP IBC-MoM","x":-18.6,"y":-14},
{"s":"LHCP IBC-MoM","x":-15,"y":-14},{"s":"LHCP IBC-MoM","x":-14,"y":-3},{"s":"LHCP IBC-MoM","x":-12.6,"y":2.4},{"s":"LHCP IBC-MoM","x":-11,"y":-1.5},{"s":"LHCP IBC-MoM","x":-9.6,"y":-4.8},{"s":"LHCP IBC-MoM","x":-8.2,"y":-3.2},{"s":"LHCP IBC-MoM","x":-7,"y":-8},{"s":"LHCP IBC-MoM","x":-6.5,"y":-14},
{"s":"LHCP IBC-MoM","x":-3.3,"y":-14},{"s":"LHCP IBC-MoM","x":-2.3,"y":0},{"s":"LHCP IBC-MoM","x":-0.9,"y":4.2},{"s":"LHCP IBC-MoM","x":0.8,"y":-1},{"s":"LHCP IBC-MoM","x":2.5,"y":-7},{"s":"LHCP IBC-MoM","x":3.5,"y":-14},
{"s":"LHCP IBC-MoM","x":6,"y":-14},{"s":"LHCP IBC-MoM","x":6.6,"y":-8},{"s":"LHCP IBC-MoM","x":7.2,"y":-14},
{"s":"LHCP IBC-MoM","x":9.8,"y":-14},{"s":"LHCP IBC-MoM","x":10.6,"y":-7.6},{"s":"LHCP IBC-MoM","x":11.2,"y":-14},
{"s":"LHCP IBC-MoM","x":12.3,"y":-14},{"s":"LHCP IBC-MoM","x":13.5,"y":-6.5},{"s":"LHCP IBC-MoM","x":14.6,"y":-6.3},{"s":"LHCP IBC-MoM","x":16.3,"y":-2.5},{"s":"LHCP IBC-MoM","x":17.7,"y":-1.5},{"s":"LHCP IBC-MoM","x":19,"y":-4},{"s":"LHCP IBC-MoM","x":20,"y":-7.5},{"s":"LHCP IBC-MoM","x":21.5,"y":-4},{"s":"LHCP IBC-MoM","x":22.8,"y":-1.8},{"s":"LHCP IBC-MoM","x":24.3,"y":-1},{"s":"LHCP IBC-MoM","x":26,"y":-4},{"s":"LHCP IBC-MoM","x":27.8,"y":-7.5},{"s":"LHCP IBC-MoM","x":29,"y":-6.5},{"s":"LHCP IBC-MoM","x":30.3,"y":-4.8},{"s":"LHCP IBC-MoM","x":31.3,"y":-8},{"s":"LHCP IBC-MoM","x":31.8,"y":-14},
{"s":"LHCP IBC-MoM","x":37.6,"y":-14},{"s":"LHCP IBC-MoM","x":38.6,"y":-5.8},{"s":"LHCP IBC-MoM","x":39.8,"y":-8},{"s":"LHCP IBC-MoM","x":40.5,"y":-14},
{"s":"LHCP IBC-MoM","x":43.3,"y":-14},{"s":"LHCP IBC-MoM","x":44.1,"y":-6.9},{"s":"LHCP IBC-MoM","x":45.1,"y":-14},
{"s":"LHCP IBC-MoM","x":54.4,"y":-14},{"s":"LHCP IBC-MoM","x":55.5,"y":-6.9},{"s":"LHCP IBC-MoM","x":56.6,"y":-14},
{"s":"LHCP IBC-MoM","x":60.6,"y":-14},{"s":"LHCP IBC-MoM","x":61.4,"y":-9.5},{"s":"LHCP IBC-MoM","x":62.2,"y":-14},
{"s":"RHCP IBC-MoM","x":-48.5,"y":-14},{"s":"RHCP IBC-MoM","x":-47,"y":-7},{"s":"RHCP IBC-MoM","x":-45.6,"y":-4.4},{"s":"RHCP IBC-MoM","x":-44.2,"y":-7},{"s":"RHCP IBC-MoM","x":-43,"y":-14},{"s":"RHCP IBC-MoM","x":-39.7,"y":-14},{"s":"RHCP IBC-MoM","x":-38.5,"y":-5},{"s":"RHCP IBC-MoM","x":-37.5,"y":-2},{"s":"RHCP IBC-MoM","x":-36.3,"y":-4.5},{"s":"RHCP IBC-MoM","x":-35.2,"y":-8},{"s":"RHCP IBC-MoM","x":-34.3,"y":-5.5},{"s":"RHCP IBC-MoM","x":-33.5,"y":-4.2},{"s":"RHCP IBC-MoM","x":-32.7,"y":-6},{"s":"RHCP IBC-MoM","x":-31.9,"y":-8},{"s":"RHCP IBC-MoM","x":-30.5,"y":-1},{"s":"RHCP IBC-MoM","x":-29.3,"y":1.4},{"s":"RHCP IBC-MoM","x":-28,"y":1.2},{"s":"RHCP IBC-MoM","x":-26.8,"y":4},{"s":"RHCP IBC-MoM","x":-25.7,"y":7.3},{"s":"RHCP IBC-MoM","x":-24.3,"y":3},{"s":"RHCP IBC-MoM","x":-23,"y":-7.5},{"s":"RHCP IBC-MoM","x":-21.5,"y":5},{"s":"RHCP IBC-MoM","x":-19.3,"y":11.4},{"s":"RHCP IBC-MoM","x":-17.8,"y":8},{"s":"RHCP IBC-MoM","x":-16.9,"y":4.8},{"s":"RHCP IBC-MoM","x":-15.5,"y":11},{"s":"RHCP IBC-MoM","x":-13.3,"y":14.9},{"s":"RHCP IBC-MoM","x":-11.5,"y":11},{"s":"RHCP IBC-MoM","x":-10.2,"y":6.6},{"s":"RHCP IBC-MoM","x":-8.5,"y":14},{"s":"RHCP IBC-MoM","x":-6.3,"y":19},{"s":"RHCP IBC-MoM","x":-4.5,"y":13},{"s":"RHCP IBC-MoM","x":-3.1,"y":3.2},{"s":"RHCP IBC-MoM","x":-1.5,"y":18},{"s":"RHCP IBC-MoM","x":0.9,"y":26.5},{"s":"RHCP IBC-MoM","x":3.5,"y":15},{"s":"RHCP IBC-MoM","x":5.6,"y":4.7},{"s":"RHCP IBC-MoM","x":7,"y":15},{"s":"RHCP IBC-MoM","x":8.6,"y":18.8},{"s":"RHCP IBC-MoM","x":10.5,"y":14},{"s":"RHCP IBC-MoM","x":12.6,"y":6},{"s":"RHCP IBC-MoM","x":14,"y":12},{"s":"RHCP IBC-MoM","x":15.6,"y":14.8},{"s":"RHCP IBC-MoM","x":17.2,"y":9},{"s":"RHCP IBC-MoM","x":18.6,"y":2.8},{"s":"RHCP IBC-MoM","x":20,"y":8},{"s":"RHCP IBC-MoM","x":21.5,"y":10.6},{"s":"RHCP IBC-MoM","x":23.3,"y":5},{"s":"RHCP IBC-MoM","x":24.9,"y":-2.3},{"s":"RHCP IBC-MoM","x":26.2,"y":3},{"s":"RHCP IBC-MoM","x":27.5,"y":6.4},{"s":"RHCP IBC-MoM","x":29,"y":2},{"s":"RHCP IBC-MoM","x":30.5,"y":-7},{"s":"RHCP IBC-MoM","x":31.3,"y":-14},{"s":"RHCP IBC-MoM","x":35.2,"y":-14},{"s":"RHCP IBC-MoM","x":35.9,"y":-6.4},{"s":"RHCP IBC-MoM","x":36.8,"y":-14},{"s":"RHCP IBC-MoM","x":40.6,"y":-14},{"s":"RHCP IBC-MoM","x":41.5,"y":-7.2},{"s":"RHCP IBC-MoM","x":42.4,"y":-14},
{"s":"RHCP FMM","x":-52.7,"y":-14},{"s":"RHCP FMM","x":-51.2,"y":-8.5},{"s":"RHCP FMM","x":-49.9,"y":-7.8},{"s":"RHCP FMM","x":-48.6,"y":-9},{"s":"RHCP FMM","x":-47.8,"y":-14},{"s":"RHCP FMM","x":-43,"y":-14},{"s":"RHCP FMM","x":-41.2,"y":-5},{"s":"RHCP FMM","x":-39.6,"y":-14},{"s":"RHCP FMM","x":-38.2,"y":-14},{"s":"RHCP FMM","x":-36.6,"y":-8},{"s":"RHCP FMM","x":-35.2,"y":-14},{"s":"RHCP FMM","x":-34.3,"y":-14},{"s":"RHCP FMM","x":-33.4,"y":-3},{"s":"RHCP FMM","x":-32.6,"y":0.8},{"s":"RHCP FMM","x":-31.5,"y":1.2},{"s":"RHCP FMM","x":-30.2,"y":-1},{"s":"RHCP FMM","x":-29,"y":-3},{"s":"RHCP FMM","x":-27.5,"y":3},{"s":"RHCP FMM","x":-25.3,"y":8},{"s":"RHCP FMM","x":-23.5,"y":6},{"s":"RHCP FMM","x":-22.2,"y":4},{"s":"RHCP FMM","x":-20.5,"y":9},{"s":"RHCP FMM","x":-18,"y":12.8},{"s":"RHCP FMM","x":-16.2,"y":10.6},{"s":"RHCP FMM","x":-14.2,"y":14},{"s":"RHCP FMM","x":-12.2,"y":16.2},{"s":"RHCP FMM","x":-10,"y":13.8},{"s":"RHCP FMM","x":-8,"y":15.5},{"s":"RHCP FMM","x":-6,"y":16.8},{"s":"RHCP FMM","x":-4.5,"y":12},{"s":"RHCP FMM","x":-3.1,"y":3},{"s":"RHCP FMM","x":-1.5,"y":16},{"s":"RHCP FMM","x":0.7,"y":24.3},{"s":"RHCP FMM","x":2.8,"y":17},{"s":"RHCP FMM","x":5.1,"y":3.5},{"s":"RHCP FMM","x":6.5,"y":14},{"s":"RHCP FMM","x":8.2,"y":17.7},{"s":"RHCP FMM","x":10,"y":16},{"s":"RHCP FMM","x":11.6,"y":13.8},{"s":"RHCP FMM","x":13,"y":15},{"s":"RHCP FMM","x":14.6,"y":16.1},{"s":"RHCP FMM","x":16,"y":14},{"s":"RHCP FMM","x":17.7,"y":10.8},{"s":"RHCP FMM","x":19,"y":12},{"s":"RHCP FMM","x":20.6,"y":12.7},{"s":"RHCP FMM","x":22,"y":9},{"s":"RHCP FMM","x":23.9,"y":4},{"s":"RHCP FMM","x":25.2,"y":5.5},{"s":"RHCP FMM","x":26.6,"y":6.8},{"s":"RHCP FMM","x":28.5,"y":4},{"s":"RHCP FMM","x":30.6,"y":-0.5},{"s":"RHCP FMM","x":32,"y":0.5},{"s":"RHCP FMM","x":33.2,"y":1},{"s":"RHCP FMM","x":34.5,"y":-3},{"s":"RHCP FMM","x":35.5,"y":-8},{"s":"RHCP FMM","x":36.2,"y":-14},{"s":"RHCP FMM","x":39.8,"y":-14},{"s":"RHCP FMM","x":41.2,"y":-6.5},{"s":"RHCP FMM","x":42.2,"y":-14}
],
"d": [
{"s":"LHCP FMM","x":-90,"y":-10},{"s":"LHCP FMM","x":-28,"y":-10},{"s":"LHCP FMM","x":-26.6,"y":-8},{"s":"LHCP FMM","x":-25.2,"y":-10},{"s":"LHCP FMM","x":-20.5,"y":-10},{"s":"LHCP FMM","x":-19.5,"y":-5},{"s":"LHCP FMM","x":-18.2,"y":-2.5},{"s":"LHCP FMM","x":-17,"y":-5},{"s":"LHCP FMM","x":-15.5,"y":-10},{"s":"LHCP FMM","x":-10.7,"y":-10},{"s":"LHCP FMM","x":-9.8,"y":-4},{"s":"LHCP FMM","x":-8.5,"y":-1.5},{"s":"LHCP FMM","x":-7.3,"y":-0.7},{"s":"LHCP FMM","x":-6,"y":-4},{"s":"LHCP FMM","x":-4.5,"y":-10},{"s":"LHCP FMM","x":-3.5,"y":-10},{"s":"LHCP FMM","x":-1.5,"y":-5},{"s":"LHCP FMM","x":0,"y":-3.7},{"s":"LHCP FMM","x":1.5,"y":-5},{"s":"LHCP FMM","x":2.7,"y":-7},{"s":"LHCP FMM","x":4.5,"y":-3},{"s":"LHCP FMM","x":6,"y":-1},{"s":"LHCP FMM","x":7.3,"y":-0.3},{"s":"LHCP FMM","x":8.8,"y":-2},{"s":"LHCP FMM","x":10.5,"y":-7},{"s":"LHCP FMM","x":11.8,"y":-10},{"s":"LHCP FMM","x":15,"y":-10},{"s":"LHCP FMM","x":17,"y":-6},{"s":"LHCP FMM","x":19.3,"y":-3},{"s":"LHCP FMM","x":21,"y":-5},{"s":"LHCP FMM","x":23,"y":-8.3},{"s":"LHCP FMM","x":24.8,"y":-6},{"s":"LHCP FMM","x":26.6,"y":-5.8},{"s":"LHCP FMM","x":28.5,"y":-7},{"s":"LHCP FMM","x":30,"y":-6.5},{"s":"LHCP FMM","x":32,"y":-6},{"s":"LHCP FMM","x":34,"y":-6.3},{"s":"LHCP FMM","x":36,"y":-8},{"s":"LHCP FMM","x":38,"y":-7},{"s":"LHCP FMM","x":39.9,"y":-6.5},{"s":"LHCP FMM","x":42,"y":-8},{"s":"LHCP FMM","x":44.5,"y":-10},{"s":"LHCP FMM","x":50,"y":-10},{"s":"LHCP FMM","x":51.5,"y":-7.8},{"s":"LHCP FMM","x":53.2,"y":-7.2},{"s":"LHCP FMM","x":55,"y":-8},{"s":"LHCP FMM","x":56.5,"y":-10},{"s":"LHCP FMM","x":90,"y":-10},
{"s":"LHCP IBC-MoM","x":-90,"y":-10},{"s":"LHCP IBC-MoM","x":-19.8,"y":-10},{"s":"LHCP IBC-MoM","x":-18.5,"y":-6},{"s":"LHCP IBC-MoM","x":-17,"y":-4.6},{"s":"LHCP IBC-MoM","x":-15.5,"y":-4.5},{"s":"LHCP IBC-MoM","x":-14.5,"y":-6},{"s":"LHCP IBC-MoM","x":-13.5,"y":-10},{"s":"LHCP IBC-MoM","x":-11.2,"y":-10},{"s":"LHCP IBC-MoM","x":-10.6,"y":-7.5},{"s":"LHCP IBC-MoM","x":-10,"y":-10},{"s":"LHCP IBC-MoM","x":-9.2,"y":-10},{"s":"LHCP IBC-MoM","x":-8,"y":-3},{"s":"LHCP IBC-MoM","x":-6.5,"y":4},{"s":"LHCP IBC-MoM","x":-4.7,"y":8},{"s":"LHCP IBC-MoM","x":-2.5,"y":9.5},{"s":"LHCP IBC-MoM","x":0,"y":10.9},{"s":"LHCP IBC-MoM","x":2,"y":8},{"s":"LHCP IBC-MoM","x":3.5,"y":6},{"s":"LHCP IBC-MoM","x":4.8,"y":4.5},{"s":"LHCP IBC-MoM","x":6.5,"y":1},{"s":"LHCP IBC-MoM","x":8.9,"y":-3},{"s":"LHCP IBC-MoM","x":10,"y":-2.5},{"s":"LHCP IBC-MoM","x":11.3,"y":-1.8},{"s":"LHCP IBC-MoM","x":12.5,"y":-4},{"s":"LHCP IBC-MoM","x":13.5,"y":-7},{"s":"LHCP IBC-MoM","x":15.3,"y":-10},{"s":"LHCP IBC-MoM","x":50.3,"y":-10},{"s":"LHCP IBC-MoM","x":51.6,"y":-8.8},{"s":"LHCP IBC-MoM","x":52.9,"y":-10},{"s":"LHCP IBC-MoM","x":59.5,"y":-10},{"s":"LHCP IBC-MoM","x":60.8,"y":-9.3},{"s":"LHCP IBC-MoM","x":62,"y":-10},{"s":"LHCP IBC-MoM","x":90,"y":-10},
{"s":"RHCP IBC-MoM","x":-90,"y":-10},{"s":"RHCP IBC-MoM","x":-63.8,"y":-10},{"s":"RHCP IBC-MoM","x":-62.8,"y":-9.1},{"s":"RHCP IBC-MoM","x":-61.8,"y":-10},{"s":"RHCP IBC-MoM","x":-54.5,"y":-10},{"s":"RHCP IBC-MoM","x":-53,"y":-6.5},{"s":"RHCP IBC-MoM","x":-51.6,"y":-5.6},{"s":"RHCP IBC-MoM","x":-50.2,"y":-7},{"s":"RHCP IBC-MoM","x":-48.8,"y":-10},{"s":"RHCP IBC-MoM","x":-46.2,"y":-10},{"s":"RHCP IBC-MoM","x":-45,"y":-5.5},{"s":"RHCP IBC-MoM","x":-43.9,"y":-4},{"s":"RHCP IBC-MoM","x":-41.2,"y":-2.9},{"s":"RHCP IBC-MoM","x":-39.8,"y":-6},{"s":"RHCP IBC-MoM","x":-39.2,"y":-10},{"s":"RHCP IBC-MoM","x":-37.9,"y":-10},{"s":"RHCP IBC-MoM","x":-36.5,"y":-3},{"s":"RHCP IBC-MoM","x":-34.5,"y":-0.8},{"s":"RHCP IBC-MoM","x":-33.3,"y":-1},{"s":"RHCP IBC-MoM","x":-32,"y":-3},{"s":"RHCP IBC-MoM","x":-30.6,"y":-10},{"s":"RHCP IBC-MoM","x":-29.7,"y":-10},{"s":"RHCP IBC-MoM","x":-28,"y":-2},{"s":"RHCP IBC-MoM","x":-26.2,"y":1.5},{"s":"RHCP IBC-MoM","x":-24.2,"y":-0.5},{"s":"RHCP IBC-MoM","x":-22.5,"y":0.5},{"s":"RHCP IBC-MoM","x":-21.5,"y":1.5},{"s":"RHCP IBC-MoM","x":-20,"y":5},{"s":"RHCP IBC-MoM","x":-18.4,"y":6.6},{"s":"RHCP IBC-MoM","x":-17,"y":6.2},{"s":"RHCP IBC-MoM","x":-15.5,"y":9.3},{"s":"RHCP IBC-MoM","x":-14,"y":9.7},{"s":"RHCP IBC-MoM","x":-12.2,"y":10.1},{"s":"RHCP IBC-MoM","x":-11.2,"y":8},{"s":"RHCP IBC-MoM","x":-10.5,"y":3},{"s":"RHCP IBC-MoM","x":-9.5,"y":-5},{"s":"RHCP IBC-MoM","x":-9,"y":-7},{"s":"RHCP IBC-MoM","x":-8.3,"y":0},{"s":"RHCP IBC-MoM","x":-7.5,"y":10},{"s":"RHCP IBC-MoM","x":-6.5,"y":17},{"s":"RHCP IBC-MoM","x":-5,"y":21},{"s":"RHCP IBC-MoM","x":-3,"y":24},{"s":"RHCP IBC-MoM","x":-0.5,"y":25.5},{"s":"RHCP IBC-MoM","x":0.7,"y":25.7},{"s":"RHCP IBC-MoM","x":2.5,"y":25.6},{"s":"RHCP IBC-MoM","x":4.5,"y":24.5},{"s":"RHCP IBC-MoM","x":6.5,"y":21},{"s":"RHCP IBC-MoM","x":8,"y":14},{"s":"RHCP IBC-MoM","x":9.3,"y":5},{"s":"RHCP IBC-MoM","x":10.6,"y":-5.7},{"s":"RHCP IBC-MoM","x":11.5,"y":5},{"s":"RHCP IBC-MoM","x":12.5,"y":9},{"s":"RHCP IBC-MoM","x":13.7,"y":10.3},{"s":"RHCP IBC-MoM","x":15.5,"y":8.5},{"s":"RHCP IBC-MoM","x":17.5,"y":5},{"s":"RHCP IBC-MoM","x":19.5,"y":2.3},{"s":"RHCP IBC-MoM","x":22.3,"y":4.2},{"s":"RHCP IBC-MoM","x":24,"y":2.5},{"s":"RHCP IBC-MoM","x":25.5,"y":-1.5},{"s":"RHCP IBC-MoM","x":27.3,"y":-5.3},{"s":"RHCP IBC-MoM","x":29.9,"y":-2.8},{"s":"RHCP IBC-MoM","x":31.3,"y":-5},{"s":"RHCP IBC-MoM","x":32.7,"y":-10},{"s":"RHCP IBC-MoM","x":35.5,"y":-10},{"s":"RHCP IBC-MoM","x":37,"y":-2.2},{"s":"RHCP IBC-MoM","x":38.6,"y":-7},{"s":"RHCP IBC-MoM","x":40,"y":-10},{"s":"RHCP IBC-MoM","x":55.5,"y":-10},{"s":"RHCP IBC-MoM","x":56.2,"y":-9.6},{"s":"RHCP IBC-MoM","x":57,"y":-10},{"s":"RHCP IBC-MoM","x":90,"y":-10},
{"s":"RHCP FMM","x":-90,"y":-10},{"s":"RHCP FMM","x":-49.8,"y":-10},{"s":"RHCP FMM","x":-48.3,"y":-6.6},{"s":"RHCP FMM","x":-46.7,"y":-10},{"s":"RHCP FMM","x":-41.3,"y":-10},{"s":"RHCP FMM","x":-40,"y":-4},{"s":"RHCP FMM","x":-38.7,"y":-10},{"s":"RHCP FMM","x":-34.5,"y":-10},{"s":"RHCP FMM","x":-32.6,"y":-3.2},{"s":"RHCP FMM","x":-30.6,"y":-10},{"s":"RHCP FMM","x":-27.5,"y":-10},{"s":"RHCP FMM","x":-25.7,"y":-1.5},{"s":"RHCP FMM","x":-24,"y":-3.5},{"s":"RHCP FMM","x":-22.5,"y":-7},{"s":"RHCP FMM","x":-21.6,"y":-10},{"s":"RHCP FMM","x":-21,"y":-10},{"s":"RHCP FMM","x":-20,"y":-3},{"s":"RHCP FMM","x":-18.5,"y":2},{"s":"RHCP FMM","x":-16.5,"y":5},{"s":"RHCP FMM","x":-14,"y":7},{"s":"RHCP FMM","x":-12,"y":7.5},{"s":"RHCP FMM","x":-10.5,"y":6.5},{"s":"RHCP FMM","x":-9.2,"y":8},{"s":"RHCP FMM","x":-7.8,"y":14},{"s":"RHCP FMM","x":-6,"y":19},{"s":"RHCP FMM","x":-3.5,"y":24},{"s":"RHCP FMM","x":-0.9,"y":25.8},{"s":"RHCP FMM","x":1.6,"y":25.2},{"s":"RHCP FMM","x":4,"y":24},{"s":"RHCP FMM","x":6,"y":21.5},{"s":"RHCP FMM","x":7.5,"y":17},{"s":"RHCP FMM","x":9.5,"y":8},{"s":"RHCP FMM","x":10.9,"y":5.5},{"s":"RHCP FMM","x":12.2,"y":7},{"s":"RHCP FMM","x":14,"y":8},{"s":"RHCP FMM","x":16.5,"y":4.3},{"s":"RHCP FMM","x":18.5,"y":2},{"s":"RHCP FMM","x":20.5,"y":-2},{"s":"RHCP FMM","x":23,"y":-8.7},{"s":"RHCP FMM","x":25,"y":-3},{"s":"RHCP FMM","x":25.9,"y":-1},{"s":"RHCP FMM","x":27,"y":-4},{"s":"RHCP FMM","x":28.3,"y":-10},{"s":"RHCP FMM","x":32.5,"y":-10},{"s":"RHCP FMM","x":33.9,"y":-3},{"s":"RHCP FMM","x":35.3,"y":-10},{"s":"RHCP FMM","x":38,"y":-10},{"s":"RHCP FMM","x":39.5,"y":-7},{"s":"RHCP FMM","x":41,"y":-10},{"s":"RHCP FMM","x":90,"y":-10}
]
},
"spacing": 3,
"bounds": "full",
"align": "none",
"resolve": {"scale": {"x": "independent", "y": "independent", "color": "independent", "strokeDash": "independent"}, "legend": {"color": "independent", "strokeDash": "independent"}},
"vconcat": [
{
 "width": 482, "height": 324,
 "title": {"text": "(a)"},
 "layer": [
  {"data": {"name": "a"}, "mark": {"type": "line", "interpolate": "monotone", "clip": true, "strokeWidth": 1.5},
   "encoding": {
    "x": {"field": "x", "type": "quantitative", "scale": {"domain": [-90, 90], "nice": false}, "axis": {"orient": "bottom", "title": "Theta [deg]", "values": [-80,-60,-40,-20,0,20,40,60,80]}},
    "y": {"field": "y", "type": "quantitative", "scale": {"domain": [-10, 30], "nice": false, "zero": false}, "axis": {"orient": "left", "title": "Directivity [dBi]", "values": [-10,-5,0,5,10,15,20,25,30]}},
    "color": {"field": "s", "type": "nominal", "scale": {"domain": ["RHCP FMM","LHCP FMM","LHCP IBC-MoM","RHCP IBC-MoM"], "range": ["#000000","#ff0000","#00ee00","#0000ff"]}, "legend": {"title": null}},
    "strokeDash": {"field": "s", "type": "nominal", "scale": {"domain": ["RHCP FMM","LHCP FMM","LHCP IBC-MoM","RHCP IBC-MoM"], "range": [[5,4],[5,4],[1,0],[1,0]]}, "legend": {"title": null}}
   }},
  {"data": {"values": [{"x": -79.5, "y": 23.3, "t": "Case 2:"}, {"x": -79.5, "y": 19.6, "t": "20 GHz"}]},
   "mark": {"type": "text", "align": "left", "baseline": "alphabetic", "fontSize": 26, "color": "#4d4d4d", "font": "Liberation Serif"},
   "encoding": {"x": {"field": "x", "type": "quantitative", "scale": {"domain": [-90, 90], "nice": false}, "axis": {"orient": "top", "labels": false, "title": null, "domain": false, "values": [-80,-60,-40,-20,0,20,40,60,80]}}, "y": {"field": "y", "type": "quantitative", "scale": {"domain": [-10, 30], "nice": false, "zero": false}, "axis": {"orient": "right", "labels": false, "title": null, "domain": false, "values": [-10,-5,0,5,10,15,20,25,30]}}, "text": {"field": "t"}}}
 ]
},
{
 "width": 482, "height": 324,
 "title": {"text": "(b)"},
 "layer": [
  {"data": {"name": "b"}, "mark": {"type": "line", "interpolate": "monotone", "clip": true, "strokeWidth": 1.5},
   "encoding": {
    "x": {"field": "x", "type": "quantitative", "scale": {"domain": [-90, 90], "nice": false}, "axis": {"orient": "bottom", "title": "Theta [deg]", "values": [-80,-60,-40,-20,0,20,40,60,80]}},
    "y": {"field": "y", "type": "quantitative", "scale": {"domain": [-10, 30], "nice": false, "zero": false}, "axis": {"orient": "left", "title": "Directivity [dBi]", "values": [-10,-5,0,5,10,15,20,25,30]}},
    "color": {"field": "s", "type": "nominal", "scale": {"domain": ["RHCP FMM","LHCP FMM","LHCP IBC-MoM","RHCP IBC-MoM"], "range": ["#000000","#ff0000","#00ee00","#0000ff"]}, "legend": {"title": null}},
    "strokeDash": {"field": "s", "type": "nominal", "scale": {"domain": ["RHCP FMM","LHCP FMM","LHCP IBC-MoM","RHCP IBC-MoM"], "range": [[5,4],[5,4],[1,0],[1,0]]}, "legend": {"title": null}}
   }},
  {"data": {"values": [{"x": -77, "y": 23, "t": "Case 2:"}, {"x": -77, "y": 19.3, "t": "24 GHz"}]},
   "mark": {"type": "text", "align": "left", "baseline": "alphabetic", "fontSize": 26, "color": "#4d4d4d", "font": "Liberation Serif"},
   "encoding": {"x": {"field": "x", "type": "quantitative", "scale": {"domain": [-90, 90], "nice": false}, "axis": {"orient": "top", "labels": false, "title": null, "domain": false, "values": [-80,-60,-40,-20,0,20,40,60,80]}}, "y": {"field": "y", "type": "quantitative", "scale": {"domain": [-10, 30], "nice": false, "zero": false}, "axis": {"orient": "right", "labels": false, "title": null, "domain": false, "values": [-10,-5,0,5,10,15,20,25,30]}}, "text": {"field": "t"}}}
 ]
},
{
 "width": 492, "height": 321,
 "title": {"text": "(c)"},
 "layer": [
  {"data": {"name": "c"}, "mark": {"type": "line", "interpolate": "monotone", "clip": true, "strokeWidth": 1.5},
   "encoding": {
    "x": {"field": "x", "type": "quantitative", "scale": {"domain": [-90, 90], "nice": false}, "axis": {"orient": "bottom", "title": "Theta [deg]", "values": [-80,-60,-40,-20,0,20,40,60,80]}},
    "y": {"field": "y", "type": "quantitative", "scale": {"domain": [-10, 30], "nice": false, "zero": false}, "axis": {"orient": "left", "title": "Directivity [dBi]", "titlePadding": 14, "values": [-10,-5,0,5,10,15,20,25,30]}},
    "color": {"field": "s", "type": "nominal", "scale": {"domain": ["RHCP FMM","LHCP FMM","RHCP IBC-MoM","LHCP IBC-MoM"], "range": ["#000000","#ff0000","#0000ff","#00ee00"]}, "legend": {"title": null}},
    "strokeDash": {"field": "s", "type": "nominal", "scale": {"domain": ["RHCP FMM","LHCP FMM","RHCP IBC-MoM","LHCP IBC-MoM"], "range": [[5,4],[5,4],[1,0],[1,0]]}, "legend": {"title": null}}
   }},
  {"data": {"values": [{"x": -73.8, "y": 22, "t": "Case 2:"}, {"x": -73.8, "y": 18.2, "t": "26 GHz"}]},
   "mark": {"type": "text", "align": "left", "baseline": "alphabetic", "fontSize": 26, "color": "#4d4d4d", "font": "Liberation Serif"},
   "encoding": {"x": {"field": "x", "type": "quantitative", "scale": {"domain": [-90, 90], "nice": false}, "axis": {"orient": "top", "labels": false, "title": null, "domain": false, "values": [-80,-60,-40,-20,0,20,40,60,80]}}, "y": {"field": "y", "type": "quantitative", "scale": {"domain": [-10, 30], "nice": false, "zero": false}, "axis": {"orient": "right", "labels": false, "title": null, "domain": false, "values": [-10,-5,0,5,10,15,20,25,30]}}, "text": {"field": "t"}}}
 ]
},
{
 "width": 480, "height": 323,
 "title": {"text": "(d)"},
 "layer": [
  {"data": {"name": "d"}, "mark": {"type": "line", "interpolate": "monotone", "clip": true, "strokeWidth": 1.5},
   "encoding": {
    "x": {"field": "x", "type": "quantitative", "scale": {"domain": [-90, 90], "nice": false}, "axis": {"orient": "bottom", "title": "Theta [deg]", "values": [-80,-60,-40,-20,0,20,40,60,80]}},
    "y": {"field": "y", "type": "quantitative", "scale": {"domain": [-10, 30], "nice": false, "zero": false}, "axis": {"orient": "left", "title": "Directivity [dBi]", "titlePadding": 15, "values": [-10,-5,0,5,10,15,20,25,30]}},
    "color": {"field": "s", "type": "nominal", "scale": {"domain": ["RHCP FMM","LHCP FMM","LHCP IBC-MoM","RHCP IBC-MoM"], "range": ["#000000","#ff0000","#00ee00","#0000ff"]}, "legend": {"title": null}},
    "strokeDash": {"field": "s", "type": "nominal", "scale": {"domain": ["RHCP FMM","LHCP FMM","LHCP IBC-MoM","RHCP IBC-MoM"], "range": [[5,4],[5,4],[1,0],[1,0]]}, "legend": {"title": null}}
   }},
  {"data": {"values": [{"x": -71.8, "y": 21.6, "t": "Case 2:"}, {"x": -71.8, "y": 17.8, "t": "28.6  GHz"}]},
   "mark": {"type": "text", "align": "left", "baseline": "alphabetic", "fontSize": 26, "color": "#4d4d4d", "font": "Liberation Serif"},
   "encoding": {"x": {"field": "x", "type": "quantitative", "scale": {"domain": [-90, 90], "nice": false}, "axis": {"orient": "top", "labels": false, "title": null, "domain": false, "values": [-80,-60,-40,-20,0,20,40,60,80]}}, "y": {"field": "y", "type": "quantitative", "scale": {"domain": [-10, 30], "nice": false, "zero": false}, "axis": {"orient": "right", "labels": false, "title": null, "domain": false, "values": [-10,-5,0,5,10,15,20,25,30]}}, "text": {"field": "t"}}}
 ]
}
]
}
